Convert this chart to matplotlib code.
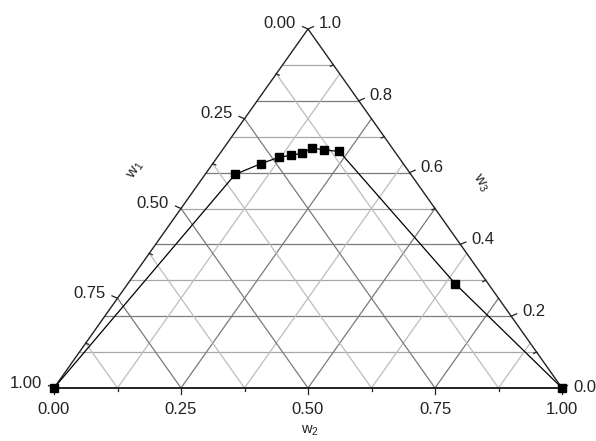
import matplotlib
matplotlib.use("Agg")
import matplotlib.pyplot as plt
import numpy as np

plt.rcParams['font.family'] = ['Liberation Sans', 'DejaVu Sans']

# ---- data (mass fractions) ----
w1 = [1.000, 0.346, 0.280, 0.236, 0.210, 0.184, 0.158, 0.137, 0.109, 0.066, 0.000]
w2 = [0.000, 0.059, 0.095, 0.122, 0.142, 0.162, 0.173, 0.200, 0.232, 0.645, 1.000]
w3 = [0.000, 0.595, 0.625, 0.643, 0.648, 0.654, 0.669, 0.663, 0.659, 0.290, 0.000]

bottom_ticks = [0.00, 0.25, 0.50, 0.75, 1.00]
left_ticks = [0.00, 0.25, 0.50, 0.75, 1.00]
right_ticks = [0.0, 0.2, 0.4, 0.6, 0.8, 1.0]
title_left = "w$_\\mathregular{1}$"
title_bottom = "w$_\\mathregular{2}$"
title_right = "w$_\\mathregular{3}$"


def tern(a2, a3):
    a2 = np.asarray(a2, float)
    a3 = np.asarray(a3, float)
    return a2 + a3 / 2.0, a3


W, H = 596, 441
fig = plt.figure(figsize=(W / 100, H / 100), dpi=100)
PX0, PX1, PYB, PYT = 54, 562, 388, 29
ax = fig.add_axes([PX0 / W, (H - PYB) / H, (PX1 - PX0) / W, (PYB - PYT) / H])
ax.set_xlim(0, 1)
ax.set_ylim(0, 1)
ax.axis('off')

sx = 1.0 / (PX1 - PX0)
sy = 1.0 / (PYB - PYT)

major_c = '#7a7a7a'
minor_c = '#bdbdbd'

# horizontal grid (constant w3)
for k in range(1, 10):
    y = k / 10
    c = major_c if k % 2 == 0 else '#a8a8a8'
    ax.plot([y / 2, 1 - y / 2], [y, y], color=c, lw=0.9, zorder=1)

# diagonal grids at 1/8 steps
for k in range(1, 8):
    t = k / 8
    c = major_c if k % 2 == 0 else minor_c
    ax.plot([t, t + (1 - t) / 2], [0, 1 - t], color=c, lw=0.9, zorder=1)
    ax.plot([t, t / 2], [0, t], color=c, lw=0.9, zorder=1)

# triangle
ax.plot([0, 1, 0.5, 0], [0, 0, 1, 0], color='#222222', lw=1.0, zorder=2,
        clip_on=False, solid_joinstyle='miter')
ax.plot([0, 1], [0, 0], color='#222222', lw=1.3, zorder=2, clip_on=False)

tk = dict(color='#222222', lw=0.9, clip_on=False, zorder=2)
# bottom ticks
for v in bottom_ticks:
    ax.plot([v, v], [0, -6 * sy], **tk)
for k in range(1, 8, 2):
    v = k / 8
    ax.plot([v, v], [0, -3 * sy], **tk)
# left ticks
for v in left_ticks:
    X, Y = (1 - v) / 2, 1 - v
    ax.plot([X, X - 5.5 * sx], [Y, Y + 2.4 * sy], **tk)
for k in range(1, 8, 2):
    v = k / 8
    X, Y = (1 - v) / 2, 1 - v
    ax.plot([X, X + 3 * sx], [Y, Y - 1.3 * sy], **tk)
# right ticks
for v in right_ticks:
    X, Y = 1 - v / 2, v
    ax.plot([X, X + 5.5 * sx], [Y, Y + 2.4 * sy], **tk)
for k in range(1, 10, 2):
    v = k / 10
    X, Y = 1 - v / 2, v
    ax.plot([X, X - 3 * sx], [Y, Y - 1.3 * sy], **tk)

fs = 12
tc = '#222222'
for v in bottom_ticks:
    ax.annotate(f"{v:.2f}", (v, 0), xytext=(0, -21), textcoords='offset pixels',
                ha='center', va='center', fontsize=fs, color=tc)
for v in left_ticks:
    X, Y = (1 - v) / 2, 1 - v
    ax.annotate(f"{v:.2f}", (X, Y), xytext=(-12, 5), textcoords='offset pixels',
                ha='right', va='center', fontsize=fs, color=tc)
for v in right_ticks:
    X, Y = 1 - v / 2, v
    dy = 1 if v == 0 else 5
    ax.annotate(f"{v:.1f}", (X, Y), xytext=(11, dy), textcoords='offset pixels',
                ha='left', va='center', fontsize=fs, color=tc)

# axis titles
ax.text(0.161, 0.607, title_left, rotation=57, ha='center', va='center',
        fontsize=11, color=tc, rotation_mode='anchor')
ax.text(0.839, 0.571, title_right, rotation=-57, ha='center', va='center',
        fontsize=11, color=tc, rotation_mode='anchor')
ax.text(0.504, -0.118, title_bottom, ha='center', va='center', fontsize=10.5, color=tc)

# data
X, Y = tern(w2, w3)
ax.plot(X, Y, color='black', lw=0.9, marker='s', ms=6, mfc='black', mec='black',
        zorder=5, clip_on=False)

fig.savefig('out.png', dpi=100, facecolor='white')
